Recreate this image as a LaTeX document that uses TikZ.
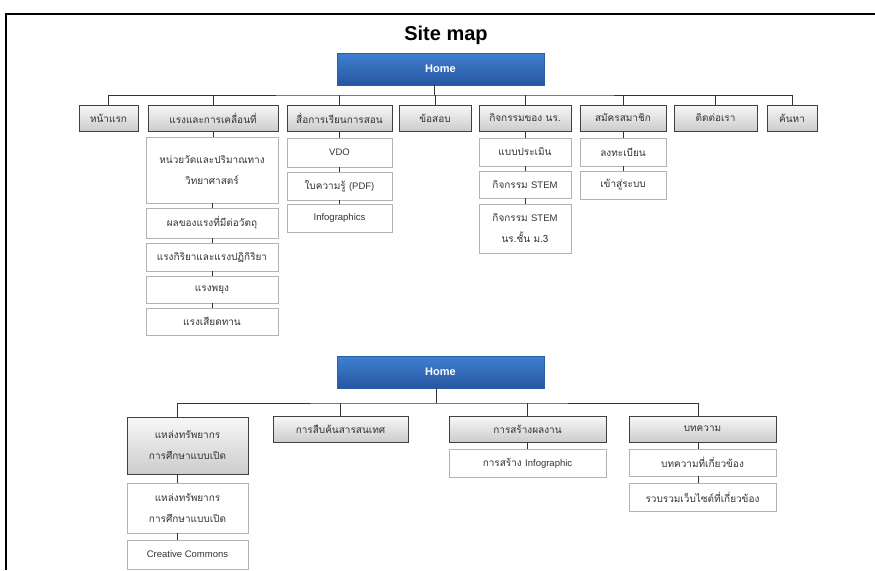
\documentclass[tikz,border=0pt]{standalone}
\usepackage{fontspec}
\setmainfont{Liberation Sans}
\newfontfamily\thf[Script=Thai]{Loma}
\usetikzlibrary{shadows,calc}
\definecolor{bluetop}{HTML}{3F80D0}
\definecolor{bluebot}{HTML}{2756A2}
\definecolor{blueedge}{HTML}{2A5DA8}
\definecolor{txt}{HTML}{333333}
\newcommand\lt[1]{{\fontspec{Liberation Sans}\fontsize{9.5}{21}\selectfont #1}}
\tikzset{
  gbox/.style={rectangle, draw=gray!50!black, line width=0.7pt, top color=gray!6, bottom color=gray!40,
    drop shadow={opacity=0.3, shadow xshift=1.2pt, shadow yshift=-1.2pt},
    inner sep=0pt, outer sep=0pt, align=center, text=txt, font=\thf\fontsize{10}{21}\selectfont},
  wbox/.style={rectangle, draw=gray!60, line width=0.8pt, fill=white,
    inner sep=0pt, outer sep=0pt, align=center, text=txt, font=\thf\fontsize{10}{21}\selectfont},
  hbox/.style={rectangle, draw=blueedge, line width=0.5pt, top color=bluetop, bottom color=bluebot,
    drop shadow={opacity=0.3, shadow xshift=1.2pt, shadow yshift=-1.2pt},
    inner sep=0pt, outer sep=0pt, text=white, font=\bfseries\fontsize{11}{13}\selectfont},
  conn/.style={draw=black!80, line width=0.8pt},
  lat/.style={font=\fontsize{9.5}{21}\selectfont}
}
\begin{document}
\begin{tikzpicture}[x=1pt,y=-1pt]
\useasboundingbox (0,0) rectangle (875,570);
\draw[line width=1.1pt] (6,570) -- (6,14) -- (875,14);
\node[font=\bfseries\fontsize{20}{24}\selectfont] (title) at (446,35) {Site map};

% ---------- first tree ----------
\node[hbox, minimum width=207pt, minimum height=32pt] (home) at (440.5,69) {Home};
\node[gbox, minimum width=59pt,  minimum height=26pt] (t1) at (108.5,118) {หน้าแรก};
\node[gbox, minimum width=130pt, minimum height=26pt] (t2) at (213,118) {แรงและการเคลื่อนที่};
\node[gbox, minimum width=105pt, minimum height=26pt] (t3) at (339.5,118) {สื่อการเรียนการสอน};
\node[gbox, minimum width=72pt,  minimum height=26pt] (t4) at (435,118) {ข้อสอบ};
\node[gbox, minimum width=92pt,  minimum height=26pt] (t5) at (525,118) {กิจกรรมของ นร.};
\node[gbox, minimum width=86pt,  minimum height=26pt] (t6) at (623,118) {สมัครสมาชิก};
\node[gbox, minimum width=83pt,  minimum height=26pt] (t7) at (715.5,118) {ติดต่อเรา};
\node[gbox, minimum width=50pt,  minimum height=26pt] (t8) at (792,118) {ค้นหา};
\coordinate (bus) at (440,95);
\draw[conn] (t1.north) |- (bus) -| (t8.north);
\draw[conn] ([xshift=-6pt]home.south) -- ([xshift=-6pt]home.south |- bus);
\foreach \t in {t2,t3,t4,t5,t6,t7}{\draw[conn] (\t.north) -- (\t.north |- bus);}

% column 2
\node[wbox, minimum width=132pt, minimum height=66pt] (c21) at (212,170) {หน่วยวัดและปริมาณทาง\\วิทยาศาสตร์};
\node[wbox, minimum width=132pt, minimum height=30pt] (c22) at (212,223) {ผลของแรงที่มีต่อวัตถุ};
\node[wbox, minimum width=132pt, minimum height=28pt] (c23) at (212,257) {แรงกิริยาและแรงปฏิกิริยา};
\node[wbox, minimum width=132pt, minimum height=27pt] (c24) at (212,289.5) {แรงพยุง};
\node[wbox, minimum width=132pt, minimum height=27pt] (c25) at (212,321.5) {แรงเสียดทาน};
\draw[conn] (t2.south) -- (t2.south |- c21.north);
\draw[conn] (c21.south) -- (c22.north);
\draw[conn] (c22.south) -- (c23.north);
\draw[conn] (c23.south) -- (c24.north);
\draw[conn] (c24.south) -- (c25.north);

% column 3
\node[wbox, lat, minimum width=105pt, minimum height=29pt] (c31) at (339.5,152.5) {VDO};
\node[wbox, minimum width=105pt, minimum height=28pt] (c32) at (339.5,186) {ใบความรู้ \lt{(PDF)}};
\node[wbox, lat, minimum width=105pt, minimum height=28pt] (c33) at (339.5,218) {Infographics};
\draw[conn] (t3.south) -- (c31.north);
\draw[conn] (c31.south) -- (c32.north);
\draw[conn] (c32.south) -- (c33.north);

% column 5
\node[wbox, minimum width=92pt, minimum height=28pt] (c51) at (525,152) {แบบประเมิน};
\node[wbox, minimum width=92pt, minimum height=27pt] (c52) at (525,184.5) {กิจกรรม \lt{STEM}};
\node[wbox, minimum width=92pt, minimum height=49pt] (c53) at (525,228.5) {กิจกรรม \lt{STEM}\\นร.ชั้น ม.3};
\draw[conn] (t5.south) -- (c51.north);
\draw[conn] (c51.south) -- (c52.north);
\draw[conn] (c52.south) -- (c53.north);

% column 6
\node[wbox, minimum width=86pt, minimum height=28pt] (c61) at (623,152) {ลงทะเบียน};
\node[wbox, minimum width=86pt, minimum height=28pt] (c62) at (623,185) {เข้าสู่ระบบ};
\draw[conn] (t6.south) -- (c61.north);
\draw[conn] (c61.south) -- (c62.north);

% ---------- second tree ----------
\node[hbox, minimum width=207pt, minimum height=32pt] (home2) at (440.5,372) {Home};
\node[gbox, minimum width=121pt, minimum height=57pt] (s1) at (187.5,445.5) {แหล่งทรัพยากร\\การศึกษาแบบเปิด};
\node[gbox, minimum width=135pt, minimum height=26pt] (s2) at (340.5,429) {การสืบค้นสารสนเทศ};
\node[gbox, minimum width=157pt, minimum height=26pt] (s3) at (527.5,429) {การสร้างผลงาน};
\node[gbox, minimum width=147pt, minimum height=26pt] (s4) at (702.5,429) {บทความ};
\coordinate (bus2) at (440,403);
\draw[conn] ([xshift=-10.5pt]s1.north) |- (bus2) -| ([xshift=-4.5pt]s4.north);
\draw[conn] ([xshift=-4.5pt]home2.south) -- ([xshift=-4.5pt]home2.south |- bus2);
\draw[conn] (s2.north) -- (s2.north |- bus2);
\draw[conn] (s3.north) -- (s3.north |- bus2);

\node[wbox, minimum width=121pt, minimum height=50pt] (s11) at (187.5,508) {แหล่งทรัพยากร\\การศึกษาแบบเปิด};
\node[wbox, lat, minimum width=121pt, minimum height=29pt] (s12) at (187.5,554.5) {Creative Commons};
\draw[conn] ([xshift=-10.5pt]s1.south) -- ([xshift=-10.5pt]s11.north);
\draw[conn] ([xshift=-10.5pt]s11.south) -- ([xshift=-10.5pt]s12.north);

\node[wbox, minimum width=157pt, minimum height=28pt] (s31) at (527.5,463) {การสร้าง \lt{Infographic}};
\draw[conn] (s3.south) -- (s31.north);

\node[wbox, minimum width=147pt, minimum height=27pt] (s41) at (702.5,462.5) {บทความที่เกี่ยวข้อง};
\node[wbox, minimum width=147pt, minimum height=28pt] (s42) at (702.5,497) {รวบรวมเว็บไซต์ที่เกี่ยวข้อง};
\draw[conn] ([xshift=-4.5pt]s4.south) -- ([xshift=-4.5pt]s41.north);
\draw[conn] ([xshift=-4.5pt]s41.south) -- ([xshift=-4.5pt]s42.north);
\end{tikzpicture}
\end{document}
